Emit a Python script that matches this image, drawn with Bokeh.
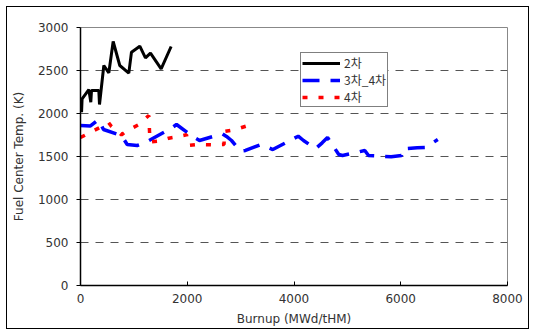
from bokeh.plotting import figure
from bokeh.models import FixedTicker, Range1d, Legend, LegendItem
from bokeh.embed import file_html
from bokeh.resources import INLINE

# Series 2차 (black)
s2_x = [20, 30, 156, 193, 206, 343, 356, 437, 531, 612, 736, 905, 955, 1111, 1217, 1311, 1511, 1698]
s2_y = [2015, 2171, 2279, 2131, 2267, 2267, 2105, 2558, 2473, 2837, 2558, 2469, 2713, 2783, 2647, 2702, 2520, 2779]

# Series 3차_4차 (blue)
s34_x = [0, 187, 337, 431, 768, 875, 1062, 1205, 1705, 1799, 2123, 2229, 2655, 2735, 2829, 2998, 3091,
         3385, 3603, 4079, 4178, 4403, 4528, 4628, 4839, 4909, 5326, 5396, 5821, 6014, 6046, 6308, 6464, 6694]
s34_y = [1860, 1855, 1930, 1814, 1744, 1640, 1628, 1659, 1829, 1872, 1724, 1686, 1764, 1733, 1686, 1562, 1570,
         1640, 1581, 1736, 1686, 1590, 1659, 1721, 1523, 1512, 1570, 1512, 1497, 1512, 1590, 1601, 1605, 1698]

# Series 4차 (red)
s4_x = [0, 375, 525, 581, 768, 830, 1092, 1280, 1302, 1456, 1654, 1767, 1986, 2014, 2186, 2497, 2689, 2698, 2904, 3185]
s4_y = [1721, 1841, 1895, 1849, 1752, 1783, 1872, 1977, 1669, 1678, 1713, 1724, 1752, 1628, 1640, 1636, 1640, 1791, 1814, 1869]

x_ticks = [0, 2000, 4000, 6000, 8000]
y_ticks = [0, 500, 1000, 1500, 2000, 2500, 3000]
labels = ["2차", "3차_4차", "4차"]

FONT = "DejaVu Sans"

p = figure(width=523, height=323, output_backend="svg", toolbar_location=None,
           x_range=Range1d(0, 8000), y_range=Range1d(0, 3000),
           min_border_left=73, min_border_right=23, min_border_top=20, min_border_bottom=45,
           styles={"border": "1px solid black", "margin-left": "6px", "margin-top": "6px"})
p.background_fill_color = "white"
p.border_fill_color = "white"
p.outline_line_color = "#888888"
p.outline_line_width = 1

p.xgrid.visible = False
p.ygrid.ticker = FixedTicker(ticks=y_ticks)
p.ygrid.grid_line_color = "#555555"
p.ygrid.grid_line_dash = "8 7"
p.ygrid.grid_line_width = 1

p.xaxis.ticker = FixedTicker(ticks=x_ticks)
p.yaxis.ticker = FixedTicker(ticks=y_ticks)
for ax in (p.xaxis[0], p.yaxis[0]):
    ax.axis_line_color = "black"
    ax.axis_line_width = 1.5
    ax.major_tick_line_color = "black"
    ax.minor_tick_line_color = None
    ax.major_label_text_font = FONT
    ax.major_label_text_font_size = "12px"
    ax.major_label_text_color = "#333333"
    ax.axis_label_text_font = FONT
    ax.axis_label_text_font_size = "12px"
    ax.axis_label_text_font_style = "normal"
    ax.axis_label_text_color = "#333333"

p.xaxis.major_tick_in = 4
p.xaxis.major_tick_out = 0
p.yaxis.major_tick_in = 0
p.yaxis.major_tick_out = 4
p.xaxis.major_label_standoff = 8
p.yaxis.major_label_standoff = 8
p.xaxis.axis_label = "Burnup (MWd/tHM)"
p.yaxis.axis_label = "Fuel Center Temp. (K)"
p.xaxis.axis_label_standoff = 6
p.yaxis.axis_label_standoff = 9

r2 = p.line(s2_x, s2_y, line_color="black", line_width=3)
r34 = p.line(s34_x, s34_y, line_color="#0000ff", line_width=3.5, line_dash="17 11")
r4 = p.line(s4_x, s4_y, line_color="#ff0000", line_width=3.5, line_dash="5 11")

legend = Legend(items=[LegendItem(label=labels[0], renderers=[r2]),
                       LegendItem(label=labels[1], renderers=[r34]),
                       LegendItem(label=labels[2], renderers=[r4])],
                location=(220, 178))
legend.label_text_font = "Noto Sans CJK KR"
legend.label_text_font_size = "12px"
legend.label_text_color = "#333333"
legend.glyph_width = 38
legend.glyph_height = 14
legend.label_height = 14
legend.label_standoff = 4
legend.spacing = 0
legend.padding = 1
legend.margin = 0
legend.border_line_color = "black"
legend.border_line_width = 1
legend.background_fill_color = "white"
legend.background_fill_alpha = 1
p.add_layout(legend, "center")

open("out.html", "w").write(file_html(p, INLINE))
